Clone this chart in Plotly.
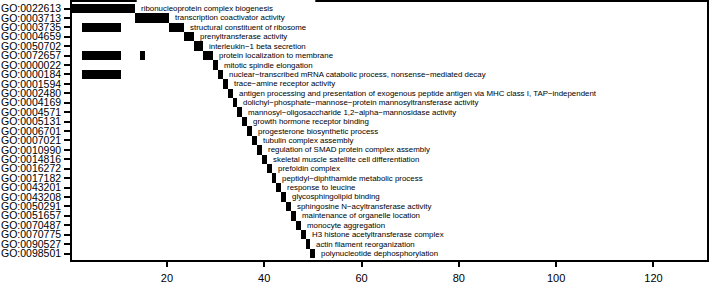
import plotly.graph_objects as go

go_ids = ["GO:0022613", "GO:0003713", "GO:0003735", "GO:0004659", "GO:0050702",
          "GO:0072657", "GO:0000022", "GO:0000184", "GO:0001594", "GO:0002480",
          "GO:0004169", "GO:0004571", "GO:0005131", "GO:0006701", "GO:0007021",
          "GO:0010990", "GO:0014816", "GO:0016272", "GO:0017182", "GO:0043201",
          "GO:0043208", "GO:0050291", "GO:0051657", "GO:0070487", "GO:0070775",
          "GO:0090527", "GO:0098501"]

terms = ["ribonucleoprotein complex biogenesis",
         "transcription coactivator activity",
         "structural constituent of ribosome",
         "prenyltransferase activity",
         "interleukin−1 beta secretion",
         "protein localization to membrane",
         "mitotic spindle elongation",
         "nuclear−transcribed mRNA catabolic process, nonsense−mediated decay",
         "trace−amine receptor activity",
         "antigen processing and presentation of exogenous peptide antigen via MHC class I, TAP−independent",
         "dolichyl−phosphate−mannose−protein mannosyltransferase activity",
         "mannosyl−oligosaccharide 1,2−alpha−mannosidase activity",
         "growth hormone receptor binding",
         "progesterone biosynthetic process",
         "tubulin complex assembly",
         "regulation of SMAD protein complex assembly",
         "skeletal muscle satellite cell differentiation",
         "prefoldin complex",
         "peptidyl−diphthamide metabolic process",
         "response to leucine",
         "glycosphingolipid binding",
         "sphingosine N−acyltransferase activity",
         "maintenance of organelle location",
         "monocyte aggregation",
         "H3 histone acetyltransferase complex",
         "actin filament reorganization",
         "polynucleotide dephosphorylation"]

# gene-cell segments per term: (first cell, last cell)
segments = [
    [(1, 13)],
    [(14, 20)],
    [(3, 10), (21, 23)],
    [(24, 25)],
    [(26, 27)],
    [(3, 10), (15, 15), (28, 29)],
    [(30, 30)],
    [(3, 10), (31, 31)],
    [(32, 32)],
    [(33, 33)], [(34, 34)], [(35, 35)], [(36, 36)], [(37, 37)], [(38, 38)],
    [(39, 39)], [(40, 40)], [(41, 41)], [(42, 42)], [(43, 43)], [(44, 44)],
    [(45, 45)], [(46, 46)], [(47, 47)], [(48, 48)], [(49, 49)], [(50, 50)],
]

x_ticks = [20, 40, 60, 80, 100, 120]

ys, bases, lens = [], [], []
for gid, segs in zip(go_ids, segments):
    for a, b in segs:
        ys.append(gid)
        bases.append(a - 0.5)
        lens.append(b - a + 1)

fig = go.Figure()
fig.add_trace(go.Bar(y=ys, x=lens, base=bases, orientation="h",
                     marker=dict(color="black", line=dict(width=0)),
                     width=1.0, hoverinfo="skip", showlegend=False))

for gid, term, segs in zip(go_ids, terms, segments):
    end = max(b for a, b in segs) + 0.5
    fig.add_annotation(x=end, y=gid, text=term, showarrow=False,
                       xanchor="left", yanchor="middle", xshift=4,
                       font=dict(family="Liberation Sans, Arial", size=7.9, color="black"))

# white patch behind the first label (it hides the top frame there)
first_end = max(b for a, b in segments[0]) + 0.5
fig.add_shape(type="rect", xref="x", yref="paper", x0=first_end + 0.3, x1=50.5,
              y0=0.985, y1=1.02, fillcolor="white", line=dict(width=0), layer="above")

fig.update_layout(
    width=709, height=283,
    margin=dict(l=72, r=2, t=2, b=23),
    plot_bgcolor="white", paper_bgcolor="white",
    bargap=0,
    font=dict(family="Liberation Sans, Arial", color="black"),
)
fig.update_xaxes(range=[0.5, 131], tickvals=x_ticks, ticks="outside", ticklen=5,
                 tickcolor="black", tickwidth=1.5, showgrid=False, zeroline=False,
                 automargin=False, showline=True, mirror=True, linecolor="black", linewidth=1.5,
                 tickfont=dict(size=11, color="black"), ticklabelstandoff=2)
fig.update_yaxes(categoryorder="array", categoryarray=go_ids, autorange="reversed",
                 tickmode="array", tickvals=go_ids, ticktext=go_ids,
                 ticks="outside", ticklen=6, tickcolor="black", tickwidth=1.5, showgrid=False,
                 zeroline=False, showline=True, mirror=True, linecolor="black",
                 linewidth=1.5, automargin=False, ticklabelstandoff=1,
                 tickfont=dict(size=10.5, color="black"))

fig.write_html("out.html", config={"displayModeBar": False},
               post_script="document.body.style.margin='0';")
